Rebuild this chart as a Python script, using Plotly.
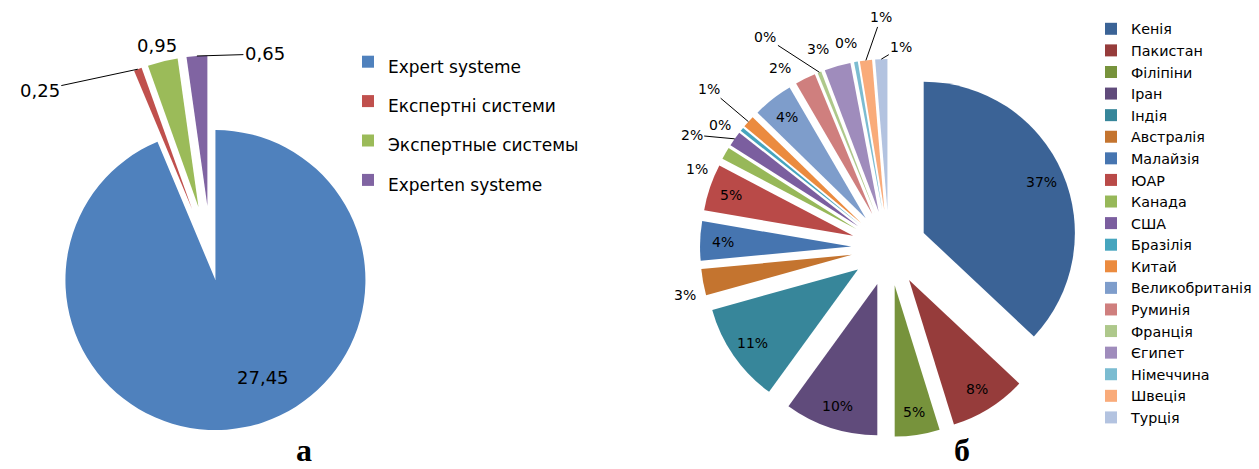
import math
import plotly.graph_objects as go

# ---- Chart (а) data ----
labels_a = ["Expert systeme", "Експертні системи", "Экспертные системы", "Experten systeme"]
values_a = [27.45, 0.25, 0.95, 0.65]
colors_a = ["#4F81BD", "#C0504D", "#9BBB59", "#8064A2"]

# ---- Chart (б) data ----
labels_b = ["Кенія", "Пакистан", "Філіпіни", "Іран", "Індія", "Австралія", "Малайзія", "ЮАР",
            "Канада", "США", "Бразілія", "Китай", "Великобританія", "Руминія", "Франція",
            "Єгипет", "Німеччина", "Швеція", "Турція"]
values_b = [37.0, 8.2, 4.8, 10.0, 10.7, 2.8, 4.2, 5.0, 1.3, 1.6, 0.4, 1.3, 4.3, 2.2, 0.4,
            2.8, 0.4, 1.3, 1.3]
colors_b = ["#3B6396", "#963C3B", "#77933C", "#604B7B", "#37869A", "#C4742F", "#4675B0",
            "#B94A48", "#97B859", "#7B5E9F", "#46A5BE", "#EB8B3F", "#7E9DCB", "#CF7F7E",
            "#AEC88B", "#9F8CBC", "#7BBCD1", "#F9AB7A", "#B3C3E0"]
inside_b = {"Кенія", "Пакистан", "Філіпіни", "Іран", "Індія", "Малайзія", "ЮАР", "Великобританія"}

W, H = 1259, 469
FONT = "DejaVu Sans"

# pie layouts (centre px, half-size of square domain px, pulls)
A_CX, A_CY, A_HALF = 211, 258, 202.5
A_PULL = [0.15, 0.35, 0.35, 0.35]
B_CX, B_CY, B_HALF = 889, 248, 189
B_PULL = 0.25

# label offsets (pixels, from slice outer mid-point) and whether a leader line is drawn
A_LABEL_OFF = {1: (-98, 21, True), 2: (-6, -16, False), 3: (68, -2, True)}
B_LABEL_OFF = {"Австралія": (-18, 13, False), "Канада": (-28, 16, False),
               "США": (-43, -4, True), "Бразілія": (-22, -4, False),
               "Китай": (-39, -33, True), "Руминія": (-25, -11, False),
               "Франція": (-54, -35, True), "Єгипет": (-19, -17, False),
               "Німеччина": (-10, -19, False), "Швеція": (15, -43, True),
               "Турція": (20, -12, True)}


def dom(cx, cy, half):
    return dict(x=[(cx - half) / W, (cx + half) / W], y=[1 - (cy + half) / H, 1 - (cy - half) / H])


def slice_points(values, cx, cy, half, pulls, frac):
    """point at `frac` of the radius along each slice's mid-angle (clockwise from 12 o'clock)"""
    r = half / (1 + max(pulls))
    tot = sum(values)
    pts, cum = [], 0.0
    for v, p in zip(values, pulls):
        mid = (cum + v / 2) / tot * 2 * math.pi
        cum += v
        dx, dy = math.sin(mid), -math.cos(mid)
        pts.append((cx + (p + frac) * r * dx, cy + (p + frac) * r * dy))
    return pts


fig = go.Figure()

fig.add_trace(go.Pie(
    labels=[f'<span style="font-size:17px">{l}</span>' for l in labels_a],
    values=values_a, sort=False, direction="clockwise", rotation=0,
    marker=dict(colors=colors_a, line=dict(width=0)),
    pull=A_PULL, textposition="none",
    domain=dom(A_CX, A_CY, A_HALF),
    legend="legend", hoverinfo="value",
))

fig.add_trace(go.Pie(
    labels=labels_b, values=values_b, sort=False, direction="clockwise", rotation=0,
    marker=dict(colors=colors_b, line=dict(width=0)),
    pull=B_PULL, textposition="none",
    domain=dom(B_CX, B_CY, B_HALF),
    legend="legend2", hoverinfo="label+percent",
))

annotations = []

# chart а labels
pa_out = slice_points(values_a, A_CX, A_CY, A_HALF, A_PULL, 1.0)
pa_in = slice_points(values_a, A_CX, A_CY, A_HALF, A_PULL, 0.72)
fmt_a = lambda v: f"{v:.2f}".replace(".", ",")
annotations.append(dict(
    x=pa_in[0][0] / W, y=1 - pa_in[0][1] / H, xref="paper", yref="paper",
    text=fmt_a(values_a[0]), showarrow=False, xanchor="center", yanchor="middle",
    xshift=26, yshift=8, font=dict(family=FONT, size=18, color="black")))
for i, (ox, oy, line) in A_LABEL_OFF.items():
    px, py = pa_out[i]
    annotations.append(dict(
        x=px / W, y=1 - py / H, xref="paper", yref="paper",
        text=fmt_a(values_a[i]),
        showarrow=True, ax=ox, ay=oy, arrowhead=0, arrowwidth=1, standoff=0,
        arrowcolor="black" if line else "rgba(0,0,0,0)",
        font=dict(family=FONT, size=18, color="black")))

# chart б labels
tot_b = sum(values_b)
pulls_b = [B_PULL] * len(values_b)
pb_out = slice_points(values_b, B_CX, B_CY, B_HALF, pulls_b, 1.0)
pb_in = slice_points(values_b, B_CX, B_CY, B_HALF, pulls_b, 0.85)
for i, lab in enumerate(labels_b):
    txt = f"{values_b[i] / tot_b * 100:.0f}%"
    if lab in inside_b:
        px, py = pb_in[i]
        annotations.append(dict(
            x=px / W, y=1 - py / H, xref="paper", yref="paper", text=txt,
            showarrow=False, xanchor="center", yanchor="middle",
            font=dict(family=FONT, size=14, color="black")))
    else:
        ox, oy, line = B_LABEL_OFF[lab]
        px, py = pb_out[i]
        annotations.append(dict(
            x=px / W, y=1 - py / H, xref="paper", yref="paper", text=txt,
            showarrow=True, ax=ox, ay=oy, arrowhead=0, arrowwidth=1, standoff=0,
            arrowcolor="black" if line else "rgba(0,0,0,0)",
            font=dict(family=FONT, size=14, color="black")))

annotations += [
    dict(text="<b>а</b>", x=304 / W, y=0, xref="paper", yref="paper", showarrow=False,
         xanchor="center", yanchor="bottom", borderpad=0,
         font=dict(family="Liberation Serif", size=32, color="black")),
    dict(text="<b>б</b>", x=962 / W, y=0, xref="paper", yref="paper", showarrow=False,
         xanchor="center", yanchor="bottom", borderpad=0,
         font=dict(family="Liberation Serif", size=32, color="black")),
]

fig.update_layout(
    width=W, height=H,
    margin=dict(l=0, r=0, t=0, b=0, autoexpand=False),
    paper_bgcolor="white", plot_bgcolor="white",
    font=dict(family=FONT, color="black"),
    legend=dict(x=348 / W, y=1 - 37 / H, xanchor="left", yanchor="top",
                font=dict(family=FONT, size=28, color="black"), bgcolor="rgba(0,0,0,0)"),
    legend2=dict(x=1091 / W, y=1 - 13 / H, xanchor="left", yanchor="top",
                 font=dict(family=FONT, size=14.3, color="black"), bgcolor="rgba(0,0,0,0)"),
    annotations=annotations,
)

fig.write_html("out.html", config={"displayModeBar": False},
               post_script="document.body.style.margin='0px';")
